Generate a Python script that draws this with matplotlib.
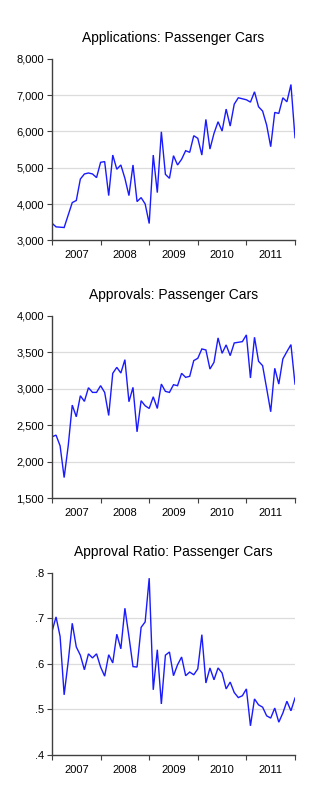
import matplotlib
matplotlib.use("Agg")
import matplotlib.pyplot as plt
import numpy as np
from matplotlib.ticker import FixedLocator, FuncFormatter

plt.rcParams['font.family'] = ['Liberation Sans', 'DejaVu Sans']

start_year = 2007
years = [2007, 2008, 2009, 2010, 2011]

applications = [3476, 3375, 3366, 3357, 3700, 4043, 4100, 4690, 4830, 4857,
                4830, 4730, 5150, 5170, 4235, 5350, 4960, 5077, 4710, 4235,
                5077, 4070, 4180, 4006, 3467, 5350, 4317, 5990, 4820, 4710,
                5333, 5077, 5233, 5470, 5425, 5882, 5810, 5350, 6330, 5515,
                5946, 6266, 6010, 6614, 6147, 6751, 6925, 6898, 6870, 6806,
                7090, 6678, 6560, 6175, 5580, 6522, 6495, 6925, 6815, 7290,
                5828]

approvals = [2342, 2365, 2218, 1784, 2218, 2776, 2616, 2904, 2827, 3014,
             2950, 2950, 3042, 2950, 2634, 3211, 3293, 3215, 3398, 2822,
             3019, 2410, 2836, 2767, 2730, 2890, 2730, 3064, 2964, 2950,
             3055, 3042, 3211, 3156, 3170, 3385, 3417, 3545, 3531, 3270,
             3362, 3696, 3485, 3600, 3453, 3627, 3636, 3645, 3737, 3147,
             3705, 3376, 3316, 3005, 2685, 3280, 3064, 3408, 3508, 3604,
             3064]

ratio = [0.671, 0.703, 0.660, 0.532, 0.605, 0.689, 0.637, 0.619, 0.587, 0.622,
         0.613, 0.622, 0.593, 0.573, 0.620, 0.602, 0.665, 0.633, 0.722, 0.660,
         0.594, 0.593, 0.680, 0.692, 0.788, 0.543, 0.631, 0.512, 0.619, 0.626,
         0.574, 0.598, 0.615, 0.574, 0.582, 0.576, 0.589, 0.664, 0.558, 0.591,
         0.565, 0.591, 0.580, 0.545, 0.560, 0.537, 0.526, 0.530, 0.545, 0.464,
         0.523, 0.510, 0.505, 0.486, 0.481, 0.503, 0.472, 0.492, 0.518, 0.497,
         0.525]

titles = ["Applications: Passenger Cars", "Approvals: Passenger Cars",
          "Approval Ratio: Passenger Cars"]
yticks_list = [[3000, 4000, 5000, 6000, 7000, 8000],
               [1500, 2000, 2500, 3000, 3500, 4000],
               [0.4, 0.5, 0.6, 0.7, 0.8]]
series = [applications, approvals, ratio]

def fmt_thousands(v, pos):
    return f"{int(round(v)):,}"

def fmt_ratio(v, pos):
    return f"{v:.1f}".lstrip("0")

formatters = [fmt_thousands, fmt_thousands, fmt_ratio]

W, H = 325, 800
fig = plt.figure(figsize=(W / 100, H / 100), dpi=100)

# axes boxes in pixels: (left, top, right, bottom)
boxes = [(52, 58.7, 295, 240.5), (52, 315.7, 295, 498.3), (52, 572.7, 295, 755)]

spine_col = "#404040"
for k in range(3):
    l, t, r, b = boxes[k]
    ax = fig.add_axes([l / W, 1 - b / H, (r - l) / W, (b - t) / H])
    vals = series[k]
    x = start_year + np.arange(len(vals)) / 12.0
    ax.plot(x, vals, color="#1a1aff", lw=1.0, solid_joinstyle="miter")
    ax.set_xlim(start_year, start_year + len(years))
    yt = yticks_list[k]
    ax.set_ylim(yt[0], yt[-1])
    ax.set_yticks(yt)
    ax.yaxis.set_major_formatter(FuncFormatter(formatters[k]))
    ax.xaxis.set_major_locator(FixedLocator(years + [years[-1] + 1]))
    ax.xaxis.set_minor_locator(FixedLocator([y + 0.5 for y in years]))
    ax.set_xticklabels([])
    ax.set_xticklabels([str(y) for y in years], minor=True)
    ax.tick_params(axis="x", which="major", length=3.8, width=0.8, color=spine_col, direction="out")
    ax.tick_params(axis="x", which="minor", length=0, pad=7, labelsize=8)
    ax.tick_params(axis="y", length=3.8, width=0.8, color=spine_col, direction="out", labelsize=8, pad=2)
    for s in ["top", "right"]:
        ax.spines[s].set_visible(False)
    for s in ["left", "bottom"]:
        ax.spines[s].set_color(spine_col)
        ax.spines[s].set_linewidth(1.0)
    for v in yt[1:-1]:
        ax.axhline(v, color="#dcdcdc", lw=0.9, zorder=0)
    ax.set_title(titles[k], fontsize=10, pad=12)

fig.savefig("out.png", dpi=100)
